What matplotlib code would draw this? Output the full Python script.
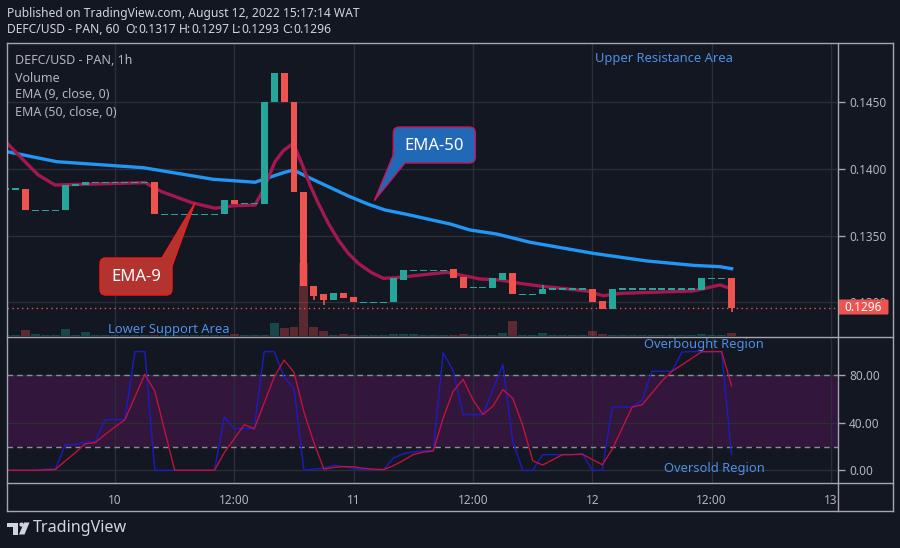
import matplotlib.pyplot as plt
from matplotlib.patches import FancyBboxPatch, Polygon, Circle

plt.rcParams["font.family"] = ["Noto Sans", "DejaVu Sans"]

BG = "#131722"
GRID = "#2a2e39"
FRAME = "#a3a6af"
TXT = "#b2b5be"
UP = "#26a69a"
DOWN = "#ef5350"
NOTE = "#4f8ee6"

# hourly candles, hour offset from Aug 10 00:00
hours = list(range(-11, 63))
opens = [
    0.1385, 0.1385, 0.1385, 0.1369, 0.1369, 0.1369, 0.1369, 0.1388, 0.1388, 0.1390,
    0.1390, 0.1390, 0.1390, 0.1390, 0.1390, 0.1390, 0.1366, 0.1366, 0.1366, 0.1366,
    0.1366, 0.1366, 0.1366, 0.1377, 0.1374, 0.1374, 0.1374, 0.1450, 0.1472, 0.1450,
    0.1383, 0.1312, 0.1306, 0.1302, 0.1307, 0.1304, 0.1300, 0.1300, 0.1300, 0.1300,
    0.1317, 0.1324, 0.1324, 0.1324, 0.1324, 0.1325, 0.1319, 0.1311, 0.1311, 0.1311,
    0.1317, 0.1322, 0.1306, 0.1306, 0.1306, 0.1310, 0.1310, 0.1310, 0.1310, 0.1310,
    0.1301, 0.1295, 0.1310, 0.1310, 0.1310, 0.1310, 0.1310, 0.1310, 0.1310, 0.1310,
    0.1309, 0.1318, 0.1318, 0.1318,
]
closes = [
    0.1385, 0.1385, 0.1369, 0.1369, 0.1369, 0.1369, 0.1388, 0.1388, 0.1390, 0.1390,
    0.1390, 0.1390, 0.1390, 0.1390, 0.1390, 0.1366, 0.1366, 0.1366, 0.1366, 0.1366,
    0.1366, 0.1366, 0.1377, 0.1374, 0.1374, 0.1374, 0.1450, 0.1472, 0.1450, 0.1383,
    0.1312, 0.1305, 0.1302, 0.1307, 0.1303, 0.1300, 0.1300, 0.1300, 0.1300, 0.1318,
    0.1324, 0.1324, 0.1324, 0.1324, 0.1324, 0.1318, 0.1311, 0.1311, 0.1311, 0.1318,
    0.1322, 0.1306, 0.1306, 0.1306, 0.1310, 0.1310, 0.1310, 0.1310, 0.1310, 0.1300,
    0.1295, 0.1310, 0.1310, 0.1310, 0.1310, 0.1310, 0.1310, 0.1310, 0.1310, 0.1310,
    0.1318, 0.1318, 0.1318, 0.1296,
]
volumes = [
    100, 100, 600, 200, 100, 100, 700, 100, 430, 100,
    100, 100, 100, 100, 100, 150, 100, 100, 100, 100,
    100, 100, 150, 200, 100, 100, 100, 1300, 800, 900,
    7300, 900, 500, 100, 200, 100, 100, 100, 100, 200,
    200, 200, 100, 100, 100, 100, 200, 100, 100, 100,
    300, 1500, 100, 100, 300, 100, 100, 100, 100, 500,
    200, 100, 100, 100, 100, 100, 100, 100, 100, 100,
    200, 100, 100, 300,
]
wick_hours = [20, 21, 43, 62]
wick_highs = [0.1312, 0.1306, 0.1313, 0.1318]
wick_lows = [0.1302, 0.1298, 0.1306, 0.1293]
last_price = 0.1296

ema9_h = [-11.06, -9.05, -7.71, -6.03, 3.02, 4.70, 7.71, 10.06, 11.9, 14.08, 14.91,
          16.09, 16.92, 17.93, 18.77, 19.61, 20.44, 21.45, 22.45, 23.46, 24.46, 25.81,
          26.98, 28.15, 29.16, 33.35, 34.69, 36.70, 38.71, 40.72, 42.73, 47.43, 49.10,
          50.78, 58.15, 60.83, 62.17]
ema9_v = [0.14209, 0.14054, 0.13954, 0.13879, 0.13897, 0.13829, 0.13747, 0.13705,
          0.13724, 0.13729, 0.13842, 0.14054, 0.14136, 0.14192, 0.14042, 0.13879,
          0.13742, 0.13592, 0.13467, 0.13367, 0.13292, 0.13222, 0.13180, 0.13184,
          0.13192, 0.13225, 0.13205, 0.13175, 0.13167, 0.13142, 0.13122, 0.13085,
          0.13049, 0.13067, 0.13085, 0.13130, 0.13097]
ema50_h = [-10.86, -5.86, 2.85, 9.88, 14.08, 15.25, 16.92, 17.93, 19.44, 21.45,
           23.46, 25.47, 27.15, 29.16, 33.69, 35.7, 38.38, 41.73, 48.09, 53.46, 58.15,
           60.83, 62.17]
ema50_v = [0.14129, 0.14054, 0.14009, 0.13922, 0.13900, 0.13930, 0.13971, 0.13992,
           0.13937, 0.13867, 0.13797, 0.13735, 0.13692, 0.13662, 0.13587, 0.13542,
           0.13512, 0.13450, 0.13367, 0.13310, 0.13277, 0.13267, 0.13250]

stoch_k = [
    0, 0, 0, 0, 1, 1, 21.6, 21.6, 24, 24,
    42.7, 42.7, 42.7, 100, 100, 0, 0, 0, 0, 0,
    0, 0, 44.9, 35.1, 35.1, 35.1, 100, 100, 78.6, 68.8,
    0, 1, 2, 4.2, 3, 1.4, 0.6, 0.6, 0.6, 10.4,
    14, 15.5, 16.5, 16.8, 99, 84, 47, 47, 47, 68,
    89, 24.4, 0, 0, 13.2, 13.2, 13.2, 13.2, 14, 0,
    0, 53.3, 53.3, 53.3, 59, 83.4, 83.4, 83.4, 99.6, 100,
    100, 100, 100, 13.2,
]
stoch_d = [
    0, 0, 0, 0, 0.3, 0.7, 7.9, 14.7, 22.4, 23.2,
    30.2, 36.5, 42.7, 61.8, 80.9, 66.7, 33.3, 0, 0, 0,
    0, 0, 15.0, 26.7, 38.4, 35.1, 56.7, 78.4, 92.9, 82.5,
    49.1, 23.3, 1.0, 2.4, 3.1, 2.9, 1.7, 0.9, 0.6, 3.9,
    8.3, 13.3, 15.3, 16.3, 44.1, 66.6, 76.7, 59.3, 47, 54,
    68, 60.5, 37.8, 8.1, 4.4, 8.8, 13.2, 13.2, 13.5, 9.1,
    4.7, 17.8, 35.5, 53.3, 55.2, 65.2, 75.3, 83.4, 88.8, 94.4,
    99.9, 100, 100, 71.1,
]

time_ticks = [0, 12, 24, 36, 48, 60, 72]
time_labels = ["10", "12:00", "11", "12:00", "12", "12:00", "13"]
price_ticks = [0.1300, 0.1350, 0.1400, 0.1450]
stoch_ticks = [0, 40, 80]

W, H = 900, 548
fig = plt.figure(figsize=(W / 100, H / 100), dpi=100, facecolor=BG)


def box(x0, y0, x1, y1):
    return [x0 / W, 1 - y1 / H, (x1 - x0) / W, (y1 - y0) / H]


XMIN, XMAX = -10.86, 72.70

# main price panel
ax = fig.add_axes(box(7, 43, 838, 336), facecolor=BG)
ax.set_xlim(XMIN, XMAX)
ax.set_ylim(0.127474, 0.149437)

# volume overlay (drawn above the candles, like the original)
axv = ax.twinx()
axv.set_ylim(0, 29300)
axv.set_xlim(XMIN, XMAX)
axv.axis("off")
vcols = [UP if c >= o else DOWN for o, c in zip(opens, closes)]
axv.bar(hours, volumes, width=0.9, color=vcols, alpha=0.33, linewidth=0, zorder=5)

ax.yaxis.tick_right()
ax.set_yticks(price_ticks)
ax.set_yticklabels([f"{p:.4f}" for p in price_ticks])
ax.set_xticks(time_ticks)
ax.tick_params(axis="x", length=0, labelbottom=False)
ax.tick_params(axis="y", colors=FRAME, labelcolor=TXT, length=5, width=1,
               labelsize=8.5, pad=3, left=False, labelleft=False,
               right=True, labelright=True)
ax.grid(True, color=GRID, linewidth=1)
ax.set_axisbelow(True)
for s in ax.spines.values():
    s.set_visible(False)

ax.plot(ema50_h, ema50_v, color="#2196f3", linewidth=2.4, zorder=2,
        solid_capstyle="butt", solid_joinstyle="round")
ax.plot(ema9_h, ema9_v, color="#a3194f", linewidth=2.4, zorder=2,
        solid_capstyle="butt", solid_joinstyle="round")

MIN_BODY = 0.0001
for h, o, c in zip(hours, opens, closes):
    col = UP if c >= o else DOWN
    if abs(c - o) < 1e-9:
        ax.bar(h, MIN_BODY, bottom=o - MIN_BODY / 2, width=0.7, color=col,
               linewidth=0, zorder=3)
    else:
        ax.bar(h, abs(c - o), bottom=min(o, c), width=0.7, color=col,
               linewidth=0, zorder=3)
for h, hi, lo in zip(wick_hours, wick_highs, wick_lows):
    i = hours.index(h)
    col = UP if closes[i] >= opens[i] else DOWN
    ax.vlines(h, lo, hi, color=col, linewidth=1.2, zorder=2.8)

ax.axhline(last_price, color=DOWN, linewidth=1, linestyle=(0, (1, 2.5)), zorder=2.5)

# stochastic panel
ax2 = fig.add_axes(box(7, 337, 838, 483), facecolor=BG)
ax2.set_xlim(XMIN, XMAX)
ax2.set_ylim(-10.7, 112.3)
ax2.axhspan(20, 80, color="#32163c", zorder=0.5, linewidth=0)
ax2.set_yticks(stoch_ticks)
ax2.set_yticklabels([f"{v:.2f}" for v in stoch_ticks])
ax2.set_xticks(time_ticks)
ax2.set_xticklabels(time_labels)
ax2.yaxis.tick_right()
ax2.tick_params(axis="y", colors=FRAME, labelcolor=TXT, length=5, width=1,
                labelsize=8.5, pad=3)
ax2.tick_params(axis="x", length=0, labelcolor=TXT, labelsize=8.5, pad=8)
ax2.grid(True, color=GRID, linewidth=1, zorder=1)
ax2.set_axisbelow(True)
for s in ax2.spines.values():
    s.set_visible(False)
for lvl in (80, 20):
    ax2.axhline(lvl, color="#8a8d96", linewidth=1, linestyle=(0, (4, 3)), zorder=2)
ax2.plot(hours, stoch_k, color="#1c1cc2", linewidth=1.0, zorder=3)
ax2.plot(hours, stoch_d, color="#c0123c", linewidth=1.0, zorder=3)

# pixel overlay for frame, labels and callouts
ov = fig.add_axes([0, 0, 1, 1], facecolor="none", zorder=10)
ov.set_xlim(0, W)
ov.set_ylim(H, 0)
ov.axis("off")

for y in (43, 336.5, 483, 511):
    ov.plot([7, 893], [y, y], color=FRAME, linewidth=1)
for x in (7, 838, 893):
    ov.plot([x, x], [43, 511], color=FRAME, linewidth=1)

ov.text(7, 13, "Published on TradingView.com, August 12, 2022 15:17:14 WAT",
        color="#d1d4dc", fontsize=8.7, va="center")

renderer = fig.canvas.get_renderer()
header = [
    ("DEFC/USD - PAN, 60", "bold", 6), ("O:", "bold", 0), ("0.1317", "normal", 3),
    ("H:", "bold", 0), ("0.1297", "normal", 3), ("L:", "bold", 0),
    ("0.1293", "normal", 3), ("C:", "bold", 0), ("0.1296", "normal", 0),
]
hx = 7
for s, wt, gap in header:
    t = ov.text(hx, 29.5, s, color="#d1d4dc", fontsize=8.7, fontweight=wt,
                va="center")
    hx = t.get_window_extent(renderer=renderer).x1 + gap

ov.text(15, 61, "DEFC/USD - PAN, 1h", color=TXT, fontsize=9, fontweight="bold",
        va="center")
for y, s in ((78, "Volume"), (95, "EMA (9, close, 0)"), (112, "EMA (50, close, 0)")):
    ov.text(15, y, s, color=TXT, fontsize=9, va="center")

ov.text(595, 58.5, "Upper Resistance Area", color=NOTE, fontsize=9.3, va="center")
ov.text(108, 329.5, "Lower Support Area", color=NOTE, fontsize=9.3, va="center")
ov.text(644, 344.5, "Overbought Region", color=NOTE, fontsize=9.3, va="center")
ov.text(664, 468.5, "Oversold Region", color=NOTE, fontsize=9.3, va="center")

# EMA-50 callout
ov.add_patch(FancyBboxPatch((393.3, 127), 82, 36,
                            boxstyle="round,pad=0,rounding_size=6",
                            facecolor="#2168b6", edgecolor="#c2185b", linewidth=1))
ov.add_patch(Polygon([(393.3, 150), (393.3, 155), (374.3, 200.7), (405, 163)],
                     closed=False, facecolor="#2168b6", edgecolor="#c2185b",
                     linewidth=1))
ov.text(434, 145.5, "EMA-50", color="white", fontsize=12, ha="center", va="center")

# EMA-9 callout
ov.add_patch(FancyBboxPatch((100, 258), 72, 37,
                            boxstyle="round,pad=0,rounding_size=6",
                            facecolor="#b3342f", edgecolor="#f01c1c", linewidth=1))
ov.add_patch(Polygon([(162, 258), (195, 202.7), (172, 266)], closed=False,
                     facecolor="#b3342f", edgecolor="#f01c1c", linewidth=1))
ov.text(136, 277, "EMA-9", color="white", fontsize=12, ha="center", va="center")

# last price label
ov.add_patch(FancyBboxPatch((838, 299.5), 50.5, 15,
                            boxstyle="round,pad=0,rounding_size=1.5",
                            facecolor=DOWN, edgecolor="none"))
ov.text(863.5, 307.3, f"{last_price:.4f}", color="white", fontsize=8.5,
        fontweight="bold", ha="center", va="center")

# TradingView logo
ov.add_patch(Polygon([(7, 522.5), (18, 522.5), (18, 534.5), (13, 534.5),
                      (13, 526.5), (7, 526.5)], closed=True, facecolor="#d1d4dc",
                     edgecolor="none"))
ov.add_patch(Circle((21.5, 524.6), 2.1, facecolor="#d1d4dc", edgecolor="none"))
ov.add_patch(Polygon([(24, 522.5), (29.5, 522.5), (24.5, 534.5), (19, 534.5)],
                     closed=True, facecolor="#d1d4dc", edgecolor="none"))
ov.text(33, 528.5, "TradingView", color="#d1d4dc", fontsize=11.6, fontweight="bold",
        va="center")

fig.savefig("out.png", dpi=100, facecolor=BG)
